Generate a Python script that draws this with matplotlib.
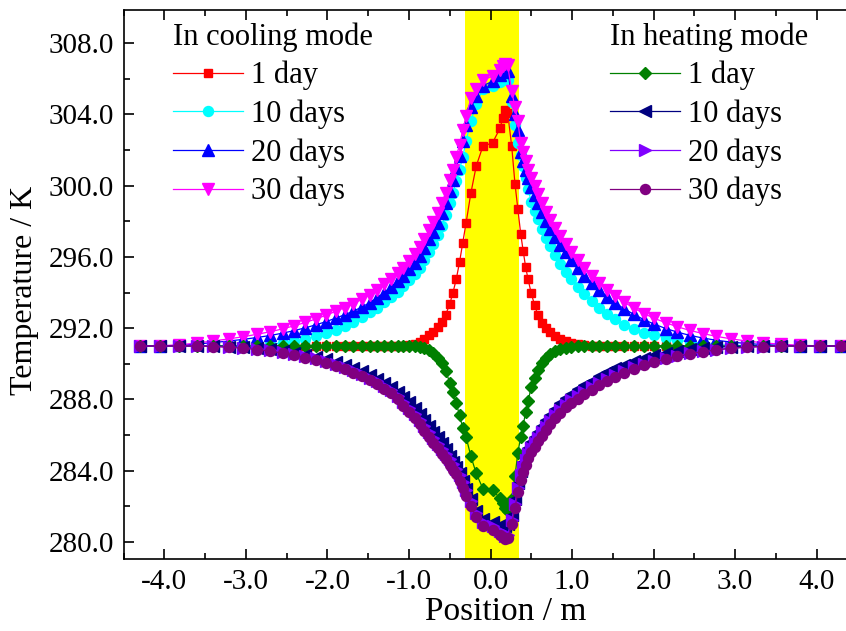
import matplotlib
matplotlib.use("Agg")
import matplotlib.pyplot as plt
from matplotlib.ticker import MultipleLocator, FormatStrFormatter

plt.rcParams['font.family'] = ['Liberation Serif', 'DejaVu Serif']
plt.rcParams['mathtext.fontset'] = 'stix'

# position of the nodes (m)
x_left = [-4.30, -4.05, -3.82, -3.60, -3.40, -3.21, -3.03, -2.86, -2.70, -2.55,
          -2.41, -2.27, -2.14, -2.02, -1.90, -1.79, -1.68, -1.58, -1.48, -1.39,
          -1.30, -1.22, -1.14, -1.07, -1.00, -0.93, -0.87, -0.81, -0.75, -0.70,
          -0.65, -0.60, -0.55, -0.50, -0.46, -0.42, -0.38, -0.34]
x_mid = [-0.30, -0.24, -0.175, -0.094, 0.025, 0.12, 0.15, 0.175, 0.21, 0.26, 0.30, 0.335]
x_right = [0.37, 0.40, 0.43, 0.46, 0.50, 0.54, 0.58, 0.63, 0.68, 0.73,
           0.79, 0.85, 0.92, 0.99, 1.07, 1.15, 1.24, 1.33, 1.43, 1.53,
           1.64, 1.76, 1.88, 2.01, 2.15, 2.29, 2.44, 2.60, 2.77, 2.95,
           3.14, 3.34, 3.56, 3.79, 4.04, 4.30]
position = x_left + x_mid + x_right

# cooling mode (K)
cool_1d = ([291.0] * 23 +
           [291.02, 291.05, 291.12, 291.25, 291.4, 291.6, 291.8, 292.05, 292.35, 292.75,
            293.35, 294.0, 294.75, 295.7, 296.8] +
           [297.9, 299.6, 301.1, 302.2, 302.4, 303.25, 303.8, 304.25, 304.1, 302.2, 300.1, 298.7] +
           [297.3, 296.35, 295.45, 294.75, 293.95, 293.3, 292.75, 292.3, 292.0, 291.8,
            291.55, 291.4, 291.28, 291.18, 291.1, 291.05, 291.02] + [291.0] * 19)
cool_10d = ([291.0] * 6 +
            [291.02, 291.05, 291.1, 291.18, 291.28, 291.4, 291.55, 291.72, 291.9, 292.1,
             292.35, 292.6, 292.88, 293.15, 293.45, 293.75, 294.05, 294.35, 294.7, 295.05,
             295.4, 295.8, 296.25, 296.7, 297.2, 297.75, 298.35, 299.0, 299.6, 300.25,
             300.9, 301.6] +
            [302.5, 303.6, 304.6, 305.4, 305.6, 305.8, 305.95, 306.0, 305.9, 304.7, 303.4, 302.4] +
            [301.7, 301.1, 300.4, 299.8, 299.1, 298.6, 298.1, 297.55, 297.05, 296.6,
             296.1, 295.6, 295.15, 294.75, 294.3, 293.9, 293.5, 293.15, 292.8, 292.5,
             292.2, 291.95, 291.75, 291.6, 291.45, 291.33, 291.23, 291.15, 291.08, 291.04,
             291.02] + [291.0] * 5)
cool_20d = ([291.0, 291.01, 291.03, 291.11, 291.19, 291.28, 291.37, 291.48, 291.59, 291.72,
             291.86, 292.02, 292.19, 292.36, 292.56, 292.75, 292.96, 293.18, 293.43, 293.7,
             294.0, 294.3, 294.63, 294.95, 295.3, 295.68, 296.07, 296.5, 296.98, 297.42,
             297.9, 298.45, 299.03, 299.7, 300.3, 300.98, 301.68, 302.48] +
            [303.4, 304.4, 305.0, 305.6, 305.85, 306.2, 306.4, 306.5, 306.45, 305.0, 304.0, 303.1] +
            [301.9, 301.4, 300.9, 300.4, 299.9, 299.45, 299.0, 298.5, 298.0, 297.58,
             297.12, 296.68, 296.25, 295.8, 295.37, 294.93, 294.53, 294.13, 293.75, 293.42,
             293.08, 292.77, 292.48, 292.22, 291.98, 291.78, 291.6, 291.45, 291.32, 291.22,
             291.14, 291.08, 291.04, 291.01, 291.0, 291.0])
cool_30d = ([291.0, 291.02, 291.06, 291.17, 291.28, 291.4, 291.52, 291.66, 291.8, 291.96,
             292.13, 292.32, 292.52, 292.72, 292.94, 293.15, 293.38, 293.62, 293.88, 294.15,
             294.45, 294.75, 295.08, 295.4, 295.75, 296.15, 296.55, 297.0, 297.5, 297.95,
             298.45, 299.0, 299.6, 300.3, 300.9, 301.6, 302.3, 303.1] +
            [303.9, 304.9, 305.4, 305.9, 306.15, 306.5, 306.7, 306.8, 306.75, 305.3, 304.4, 303.6] +
            [302.4, 301.9, 301.4, 300.9, 300.4, 299.95, 299.5, 299.0, 298.5, 298.05,
             297.6, 297.15, 296.7, 296.25, 295.8, 295.35, 294.95, 294.55, 294.15, 293.8,
             293.45, 293.12, 292.82, 292.55, 292.3, 292.08, 291.88, 291.7, 291.54, 291.4,
             291.28, 291.18, 291.1, 291.04, 291.01, 291.0])

# heating mode (K)
heat_1d = ([291.0] * 26 +
           [290.97, 290.9, 290.8, 290.6, 290.35, 290.05, 289.6, 288.95, 288.4, 287.8,
            287.1, 286.4] +
           [285.9, 284.8, 283.85, 283.0, 282.9, 282.45, 282.2, 281.9, 281.75, 282.4, 283.7, 285.0] +
           [285.9, 286.5, 287.3, 287.9, 288.7, 289.2, 289.65, 290.05, 290.35, 290.55,
            290.72, 290.82, 290.9, 290.95, 290.98] + [291.0] * 21)
heat_10d = ([291.0] * 5 +
            [290.97, 290.93, 290.88, 290.81, 290.73, 290.63, 290.52, 290.39, 290.25, 290.1,
             289.94, 289.76, 289.58, 289.37, 289.16, 288.94, 288.71, 288.44, 288.15, 287.84,
             287.52, 287.2, 286.86, 286.52, 286.2, 285.88, 285.55, 285.2, 284.85, 284.5,
             284.2, 283.85, 283.45] +
            [283.0, 282.4, 281.75, 281.3, 281.1, 280.95, 280.9, 280.9, 281.0, 281.5, 282.4, 283.3] +
            [284.0, 284.5, 284.9, 285.25, 285.6, 285.9, 286.2, 286.52, 286.85, 287.15,
             287.48, 287.78, 288.07, 288.32, 288.58, 288.82, 289.06, 289.3, 289.53, 289.75,
             289.95, 290.14, 290.31, 290.47, 290.61, 290.72, 290.81, 290.88, 290.93, 290.97,
             290.99] + [291.0] * 5)
heat_20d = ([291.0] * 4 +
            [290.98, 290.95, 290.9, 290.84, 290.77, 290.67, 290.56, 290.44, 290.3, 290.15,
             289.99, 289.83, 289.64, 289.45, 289.23, 289.02, 288.78, 288.54, 288.2, 287.86,
             287.52, 287.18, 286.84, 286.5, 286.16, 285.82, 285.52, 285.23, 284.94, 284.65,
             284.36, 284.11, 283.77, 283.38] +
            [282.9, 282.3, 281.65, 281.1, 280.9, 280.6, 280.5, 280.35, 280.4, 281.25, 282.15, 283.05] +
            [283.75, 284.2, 284.6, 284.93, 285.27, 285.56, 285.85, 286.15, 286.48, 286.78,
             287.12, 287.42, 287.7, 287.95, 288.2, 288.44, 288.68, 288.92, 289.16, 289.38,
             289.59, 289.8, 289.98, 290.15, 290.31, 290.46, 290.59, 290.7, 290.8, 290.88,
             290.94, 290.97, 290.99, 291.0, 291.0, 291.0])
heat_30d = ([291.0] * 4 +
            [290.97, 290.93, 290.87, 290.8, 290.71, 290.6, 290.48, 290.35, 290.2, 290.04,
             289.87, 289.7, 289.5, 289.3, 289.07, 288.85, 288.6, 288.35, 288.0, 287.65,
             287.3, 286.95, 286.6, 286.25, 285.9, 285.55, 285.25, 284.95, 284.65, 284.35,
             284.05, 283.8, 283.45, 283.05] +
            [282.6, 282.0, 281.4, 280.9, 280.7, 280.4, 280.3, 280.15, 280.2, 281.0, 281.9, 282.8] +
            [283.5, 283.95, 284.35, 284.7, 285.05, 285.35, 285.65, 285.95, 286.3, 286.6,
             286.95, 287.25, 287.55, 287.8, 288.05, 288.3, 288.55, 288.8, 289.05, 289.28,
             289.5, 289.72, 289.92, 290.1, 290.27, 290.42, 290.56, 290.68, 290.78, 290.87,
             290.93, 290.97, 290.99, 291.0, 291.0, 291.0])

labels = ['1 day', '10 days', '20 days', '30 days']
pipe_zone = (-0.31, 0.35)

fig = plt.figure(figsize=(8.46, 6.31), dpi=100)
ax = fig.add_axes([0.146, 0.1136, 0.8676, 0.8705])

ax.axvspan(pipe_zone[0], pipe_zone[1], color='#FFFF00', lw=0, zorder=0)

cool_style = [('#FF0000', 's', 6.2), ('#00FFFF', 'o', 7.2), ('#0000FF', '^', 8), ('#FF00FF', 'v', 8)]
heat_style = [('#008000', 'D', 5.8), ('#000080', '<', 8), ('#8000FF', '>', 8), ('#800080', 'o', 7.2)]

cool_lines = []
for y, lab, (c, m, s) in zip([cool_1d, cool_10d, cool_20d, cool_30d], labels, cool_style):
    ln, = ax.plot(position, y, color=c, marker=m, ms=s, lw=0.9, label=lab)
    cool_lines.append(ln)
heat_lines = []
for y, lab, (c, m, s) in zip([heat_1d, heat_10d, heat_20d, heat_30d], labels, heat_style):
    ln, = ax.plot(position, y, color=c, marker=m, ms=s, lw=0.9, label=lab)
    heat_lines.append(ln)

ax.set_xlim(-4.5, 4.5)
ax.set_ylim(279.03, 309.85)
ax.xaxis.set_major_locator(MultipleLocator(1.0))
ax.xaxis.set_minor_locator(MultipleLocator(0.5))
ax.yaxis.set_major_locator(MultipleLocator(4.0))
ax.yaxis.set_minor_locator(MultipleLocator(2.0))
ax.xaxis.set_major_formatter(FormatStrFormatter('%.1f'))
ax.yaxis.set_major_formatter(FormatStrFormatter('%.1f'))
ax.tick_params(which='both', direction='in', top=True, right=True, labelsize=21, width=1.2)
ax.tick_params(which='major', length=7, pad=7)
ax.tick_params(which='minor', length=4)
for sp in ax.spines.values():
    sp.set_linewidth(1.2)

ax.set_xlabel('Position / m', fontsize=24)
ax.set_ylabel('Temperature / K', fontsize=23)
ax.xaxis.set_label_coords(0.52, -0.068)
ax.yaxis.set_label_coords(-0.115, 0.49)

leg_kw = dict(frameon=False, fontsize=22, title_fontsize=22, loc='upper left',
              handlelength=2.3, handletextpad=0.25, labelspacing=0.3, borderpad=0,
              borderaxespad=0, alignment='left')
leg1 = ax.legend(handles=cool_lines, title='In cooling mode', bbox_to_anchor=(0.067, 0.978), **leg_kw)
ax.add_artist(leg1)
ax.legend(handles=heat_lines, title='In heating mode', bbox_to_anchor=(0.663, 0.978), **leg_kw)

fig.savefig('out.png', dpi=100)
